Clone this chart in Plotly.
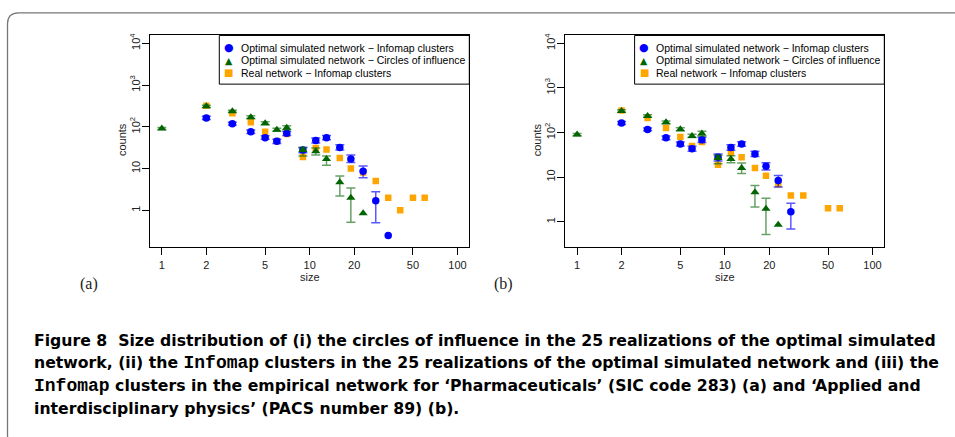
import plotly.graph_objects as go

W, H = 955, 437

# ---- data ----
x_ticks = [1, 2, 5, 10, 20, 50, 100]
x_ticktext = ["1", "2", "5", "10", "20", "50", "100"]
y_ticks = [1, 10, 100, 1000, 10000]
y_ticktext = ["1", "10", "10<sup>2</sup>", "10<sup>3</sup>", "10<sup>4</sup>"]

# panel (a): Pharmaceuticals
a_info_x = [2, 3, 4, 5, 6, 7, 9, 11, 13, 16, 19, 23, 28, 34]
a_info_y = [163, 118, 76, 55, 45, 70, 28, 47, 55, 32, 17, 8.6, 1.7, 0.25]
a_info_lo = [150, 110, 69, 50, 40, 62, 24, 41, 49, 28, 14, 6, 0.5]
a_info_hi = [178, 128, 84, 61, 50, 77, 32, 54, 62, 37, 21, 11.5, 2.8]

a_circ_x = [1, 2, 3, 4, 5, 6, 7, 9, 11, 13, 16, 19, 23]
a_circ_y = [91, 309, 235, 170, 122, 85, 95, 28, 26, 17, 4.7, 2.0, 0.85]
a_circ_lo = [86, 290, 222, 158, 112, 78, 85, 20, 21, 12, 2.2, 0.52]
a_circ_hi = [96, 330, 250, 183, 133, 92, 106, 32, 31, 20, 6.6, 3.4]

a_real_x = [2, 3, 4, 5, 6, 7, 9, 11, 13, 16, 19, 23, 28, 34, 41, 50, 60]
a_real_y = [321, 211, 129, 76, 46, 67, 19, 31, 28.5, 18, 10, 8, 5, 2, 1, 2, 2]

# panel (b): Applied and interdisciplinary physics
b_info_x = [2, 3, 4, 5, 6, 7, 9, 11, 13, 16, 19, 23, 28]
b_info_y = [164, 117, 76, 55, 43, 69, 28, 46, 55, 33, 17.5, 8.4, 1.67]
b_info_lo = [152, 109, 69, 50, 38, 60, 23, 40, 49, 29, 14.5, 6, 0.69]
b_info_hi = [176, 126, 84, 61, 49, 78, 33, 53, 62, 38, 21, 10.9, 2.6]

b_circ_x = [1, 2, 3, 4, 5, 6, 7, 9, 11, 13, 16, 19, 23]
b_circ_y = [90, 303, 235, 169, 118, 84, 95, 27, 25.5, 16, 4.6, 1.95, 0.86]
b_circ_lo = [85, 285, 220, 157, 110, 77, 84, 20, 21, 12, 2.15, 0.52]
b_circ_hi = [95, 325, 250, 182, 128, 92, 107, 31, 30, 20.8, 6.5, 3.36]

b_real_x = [2, 3, 4, 5, 6, 7, 9, 11, 13, 16, 19, 23, 28, 34, 50, 60]
b_real_y = [313, 212, 127, 79, 50, 61, 19, 35, 28, 16, 10.7, 6.9, 3.85, 3.85, 2, 2]

legend_labels = ["Optimal simulated network \u2212 Infomap clusters",
                 "Optimal simulated network \u2212 Circles of influence",
                 "Real network \u2212 Infomap clusters"]

MONO = "<span style=\"font-family:Liberation Mono;font-size:18px\">Infomap</span>"
caption_lines = [
    "Figure 8  Size distribution of (i) the circles of influence in the 25 realizations of the optimal simulated",
    "network, (ii) the " + MONO + " clusters in the 25 realizations of the optimal simulated network and (iii) the",
    MONO + " clusters in the empirical network for \u2018Pharmaceuticals\u2019 (SIC code 283) (a) and \u2018Applied and",
    "interdisciplinary physics\u2019 (PACS number 89) (b).",
]

BLUE = "#0000ff"
GREEN = "#006400"
ORANGE = "#ffa500"


def px(x):
    return x / W


def py(y):
    return 1 - y / H


def errs(y, lo, hi):
    # asymmetric error arrays; points past the end of lo/hi get no bar
    plus = [h - v for v, h in zip(y, hi)]
    minus = [v - l for v, l in zip(y, lo)]
    return plus, minus


def note(x, y, text, **kw):
    d = dict(xref="paper", yref="paper", x=px(x), y=py(y), text=text,
             showarrow=False, xanchor="center", yanchor="middle")
    d.update(kw)
    return d


fig = go.Figure()

panels = [
    dict(xa="x", ya="y", left=150, right=469.3, yrange=[-0.887, 4.188],
         info=(a_info_x, a_info_y, a_info_lo, a_info_hi),
         circ=(a_circ_x, a_circ_y, a_circ_lo, a_circ_hi),
         real=(a_real_x, a_real_y), tag="(a)", tagx=89),
    dict(xa="x2", ya="y2", left=565.3, right=884.3, yrange=[-0.574, 4.176],
         info=(b_info_x, b_info_y, b_info_lo, b_info_hi),
         circ=(b_circ_x, b_circ_y, b_circ_lo, b_circ_hi),
         real=(b_real_x, b_real_y), tag="(b)", tagx=503),
]

top, bottom = 32.7, 246
label_font = dict(family="Liberation Sans", size=11, color="#222")

annotations = []
shapes = []

for i, p in enumerate(panels):
    rx, ry = p["real"]
    fig.add_trace(go.Scatter(
        x=rx, y=ry, mode="markers", xaxis=p["xa"], yaxis=p["ya"],
        marker=dict(symbol="square", size=6.5, color=ORANGE),
        showlegend=False))

    ix, iy, ilo, ihi = p["info"]
    plus, minus = errs(iy, ilo, ihi)
    fig.add_trace(go.Scatter(
        x=ix, y=iy, mode="markers", xaxis=p["xa"], yaxis=p["ya"],
        marker=dict(symbol="circle", size=7.5, color=BLUE),
        error_y=dict(type="data", symmetric=False, array=plus, arrayminus=minus,
                     color="rgba(0,0,255,0.65)", thickness=1.5, width=4.5),
        showlegend=False))

    cx, cy, clo, chi = p["circ"]
    plus, minus = errs(cy, clo, chi)
    fig.add_trace(go.Scatter(
        x=cx, y=cy, mode="markers", xaxis=p["xa"], yaxis=p["ya"],
        marker=dict(symbol="triangle-up", size=8, color=GREEN),
        error_y=dict(type="data", symmetric=False, array=plus, arrayminus=minus,
                     color="rgba(0,100,0,0.6)", thickness=1.5, width=4.5),
        showlegend=False))

    suffix = "" if i == 0 else "2"
    axis_common = dict(
        showline=True, mirror=True, linecolor="black", linewidth=1,
        showgrid=False, zeroline=False, ticks="outside", ticklen=7,
        tickcolor="black", tickwidth=1, tickfont=label_font)
    fig.update_layout({
        "xaxis" + suffix: dict(axis_common, type="log", range=[-0.08, 2.08],
                               tickvals=x_ticks, ticktext=x_ticktext,
                               domain=[px(p["left"]), px(p["right"])],
                               anchor="y" + suffix),
        "yaxis" + suffix: dict(axis_common, type="log", range=p["yrange"],
                               tickvals=y_ticks, ticktext=y_ticktext,
                               tickangle=-90, ticklabelstandoff=-2,
                               domain=[py(bottom), py(top)],
                               anchor="x" + suffix),
    })

    # axis titles
    annotations.append(note(p["left"] - 28, 138, "counts", textangle=-90, font=label_font))
    annotations.append(note(p["left"] + 160, 276, "size", font=label_font))
    # panel tag
    annotations.append(note(p["tagx"], 283, p["tag"],
                            font=dict(family="Liberation Serif", size=16, color="#222")))

    # legend box
    lx0 = p["left"] + 69.3
    shapes.append(dict(type="rect", xref="paper", yref="paper",
                       x0=px(lx0), x1=px(p["right"]), y0=py(81.7), y1=py(top),
                       line=dict(color="black", width=1)))
    keys = [("\u25cf", BLUE, 11), ("\u25b2", GREEN, 9.5), ("\u25a0", ORANGE, 10)]
    for k, ((glyph, col, fs), lab) in enumerate(zip(keys, legend_labels)):
        yy = 45.2 + 12.6 * k
        annotations.append(note(lx0 + 9.5, yy, glyph,
                                font=dict(family="DejaVu Sans", size=fs, color=col)))
        annotations.append(note(lx0 + 19.5, yy, lab, xanchor="left",
                                font=dict(family="Liberation Sans", size=10.5, color="black")))

# caption
for k, line in enumerate(caption_lines):
    annotations.append(note(32, 340 + 22.8 * k, line, xanchor="left",
                            font=dict(family="DejaVu Sans", size=15.7, weight="bold", color="black")))

# rounded outer frame
x0, y0, x1, y1, r = 7.5, 10, 970, 446, 11
path = (f"M {px(x0)},{py(y0 + r)} Q {px(x0)},{py(y0)} {px(x0 + r)},{py(y0)} "
        f"L {px(x1)},{py(y0)} L {px(x1)},{py(y1)} L {px(x0 + r)},{py(y1)} "
        f"Q {px(x0)},{py(y1)} {px(x0)},{py(y1 - r)} Z")
shapes.append(dict(type="path", xref="paper", yref="paper", path=path,
                   line=dict(color="#777", width=1.3)))

fig.update_layout(
    width=W, height=H,
    margin=dict(l=0, r=0, t=0, b=0),
    paper_bgcolor="white", plot_bgcolor="white",
    showlegend=False,
    annotations=annotations,
    shapes=shapes,
)

fig.write_html("out.html", config={"displayModeBar": False},
               post_script="document.body.style.margin='0';")
